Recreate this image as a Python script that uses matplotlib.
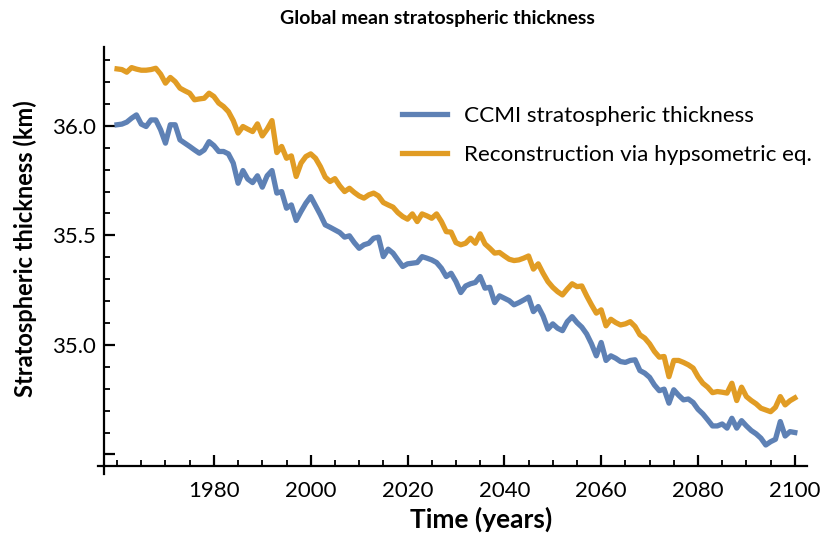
import numpy as np
import matplotlib.pyplot as plt

plt.rcParams['font.family'] = ['Lato', 'DejaVu Sans']

# Years 1960..2100 (one value per year)
years = np.arange(1960, 2101)

# CCMI stratospheric thickness (km)
ccmi = [36.005, 36.008, 36.017, 36.035, 36.050, 36.008, 35.997, 36.027, 36.027, 35.982,
        35.921, 36.005, 36.005, 35.936, 35.921, 35.906, 35.890, 35.875, 35.890, 35.928,
        35.910, 35.883, 35.883, 35.872, 35.830, 35.738, 35.796, 35.757, 35.741, 35.772,
        35.720, 35.772, 35.796, 35.693, 35.700, 35.624, 35.639, 35.568, 35.609, 35.647,
        35.677, 35.635, 35.594, 35.548, 35.537, 35.525, 35.513, 35.492, 35.498, 35.467,
        35.441, 35.457, 35.464, 35.487, 35.492, 35.403, 35.437, 35.419, 35.388, 35.358,
        35.370, 35.373, 35.376, 35.403, 35.396, 35.388, 35.376, 35.350, 35.312, 35.327,
        35.289, 35.239, 35.269, 35.279, 35.285, 35.312, 35.259, 35.263, 35.193, 35.224,
        35.213, 35.202, 35.183, 35.193, 35.205, 35.218, 35.152, 35.175, 35.132, 35.072,
        35.096, 35.076, 35.065, 35.106, 35.129, 35.102, 35.081, 35.050, 35.005, 34.950,
        35.011, 34.929, 34.950, 34.939, 34.924, 34.920, 34.929, 34.932, 34.883, 34.871,
        34.852, 34.817, 34.791, 34.798, 34.734, 34.795, 34.770, 34.749, 34.753, 34.737,
        34.706, 34.685, 34.658, 34.630, 34.630, 34.639, 34.620, 34.665, 34.620, 34.654,
        34.630, 34.609, 34.594, 34.574, 34.543, 34.558, 34.569, 34.650, 34.584, 34.604,
        34.600]

# Reconstruction via hypsometric equation (km)
recon = [36.260, 36.257, 36.245, 36.266, 36.259, 36.254, 36.254, 36.257, 36.263, 36.236,
         36.195, 36.221, 36.202, 36.172, 36.160, 36.149, 36.119, 36.123, 36.126, 36.149,
         36.134, 36.104, 36.088, 36.065, 36.024, 35.967, 35.997, 35.985, 35.974, 36.009,
         35.954, 35.985, 36.024, 35.878, 35.906, 35.852, 35.863, 35.769, 35.830, 35.860,
         35.872, 35.852, 35.814, 35.766, 35.746, 35.759, 35.726, 35.700, 35.715, 35.696,
         35.680, 35.670, 35.685, 35.693, 35.680, 35.650, 35.639, 35.629, 35.604, 35.586,
         35.574, 35.598, 35.563, 35.598, 35.589, 35.578, 35.598, 35.563, 35.517, 35.515,
         35.467, 35.457, 35.464, 35.487, 35.464, 35.507, 35.461, 35.441, 35.419, 35.422,
         35.406, 35.391, 35.385, 35.388, 35.396, 35.406, 35.346, 35.370, 35.327, 35.289,
         35.263, 35.243, 35.228, 35.255, 35.279, 35.266, 35.269, 35.224, 35.183, 35.145,
         35.160, 35.087, 35.117, 35.102, 35.091, 35.096, 35.106, 35.084, 35.046, 35.031,
         35.005, 34.970, 34.944, 34.947, 34.855, 34.929, 34.929, 34.920, 34.909, 34.894,
         34.855, 34.825, 34.807, 34.782, 34.787, 34.784, 34.780, 34.825, 34.746, 34.807,
         34.764, 34.746, 34.731, 34.711, 34.703, 34.695, 34.715, 34.764, 34.726, 34.745,
         34.758]

labels = ['CCMI stratospheric thickness', 'Reconstruction via hypsometric eq.']
colors = ['#5E81B5', '#E19C24']

fig = plt.figure(figsize=(8.26, 5.39), dpi=100)
ax = fig.add_axes([0.1259, 0.1354, 0.851, 0.7774])

ax.plot(years, ccmi, color=colors[0], lw=3.8, label=labels[0])
ax.plot(years, recon, color=colors[1], lw=3.8, label=labels[1])

ax.set_xlim(1957.3, 2102.5)
ax.set_ylim(34.447, 36.36)

for s in ['top', 'right']:
    ax.spines[s].set_visible(False)
for s in ['left', 'bottom']:
    ax.spines[s].set_linewidth(1.6)
# small overhang of the axis lines past the origin
ax.plot([-0.009, 0], [0, 0], transform=ax.transAxes, color='black', lw=1.6, clip_on=False)
ax.plot([0, 0], [-0.02, 0], transform=ax.transAxes, color='black', lw=1.6, clip_on=False)

ax.set_xticks(np.arange(1980, 2101, 20))
ax.set_xticks(np.arange(1960, 2101, 5), minor=True)
ax.set_yticks([34.5, 35.0, 35.5, 36.0])
ax.set_yticklabels(['', '35.0', '35.5', '36.0'])
ax.set_yticks(np.arange(34.5, 36.35, 0.1), minor=True)
ax.tick_params(which='major', direction='in', length=8, width=1.6, labelsize=16)
ax.tick_params(axis='x', which='major', pad=11)
ax.tick_params(axis='y', which='major', pad=6)
ax.tick_params(which='minor', direction='in', length=4.5, width=1.3)

ax.set_xlabel('Time (years)', fontsize=19, fontweight='bold')
ax.xaxis.set_label_coords(0.536, -0.098)
ax.set_ylabel('Stratospheric thickness (km)', fontsize=17, fontweight='bold')
ax.yaxis.set_label_coords(-0.096, 0.518)
fig.text(0.529, 0.966, 'Global mean stratospheric thickness', ha='center', va='center',
         fontsize=14, fontweight='bold')

ax.legend(loc='upper left', bbox_to_anchor=(0.395, 0.908), frameon=False, fontsize=16.2,
          handlelength=2.0, handletextpad=0.75, labelspacing=0.85)

fig.savefig('out.png', dpi=100)
